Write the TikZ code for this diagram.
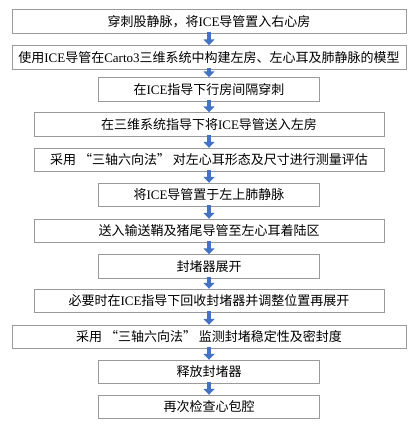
\documentclass[tikz,border=0pt]{standalone}
\usepackage{fontspec}
\setmainfont{Noto Sans CJK SC}
\newfontfamily\lat{Liberation Serif}
\usetikzlibrary{arrows.meta}
\definecolor{flowblue}{HTML}{4472C4}
\definecolor{boxline}{HTML}{9A9A9A}
\tikzset{
  stepbox/.style={draw=boxline, line width=0.9pt, fill=white, minimum height=23.5pt, inner sep=0pt,
    font=\fontsize{13}{15}\selectfont, text=black},
  widebox/.style={stepbox, minimum width=394pt},
  midbox/.style={stepbox, minimum width=350pt},
  narrowbox/.style={stepbox, minimum width=221pt},
  flowarrow/.style={draw=flowblue, line width=4pt, -{Triangle[width=11pt,length=6pt]}, shorten <=-2pt}
}
\newcommand{\latw}[1]{{\lat #1}}
\begin{document}
\begin{tikzpicture}[x=1pt,y=1pt]
\useasboundingbox (0,0) rectangle (417,427);
\node[widebox]   (b1)  at (209,427-21.5) {穿刺股静脉，将\latw{ICE}导管置入右心房};
\node[widebox]   (b2)  at (209,427-57.5) {使用\latw{ICE}导管在\latw{Carto3}三维系统中构建左房、左心耳及肺静脉的模型};
\node[narrowbox] (b3)  at (209,427-89.5) {在\latw{ICE}指导下行房间隔穿刺};
\node[midbox]    (b4)  at (209,427-124.5) {在三维系统指导下将\latw{ICE}导管送入左房};
\node[midbox]    (b5)  at (209,427-160) {采用 “三轴六向法” 对左心耳形态及尺寸进行测量评估};
\node[narrowbox] (b6)  at (209,427-195) {将\latw{ICE}导管置于左上肺静脉};
\node[midbox]    (b7)  at (209,427-231) {送入输送鞘及猪尾导管至左心耳着陆区};
\node[narrowbox] (b8)  at (209,427-266.5) {封堵器展开};
\node[midbox]    (b9)  at (209,427-301) {必要时在\latw{ICE}指导下回收封堵器并调整位置再展开};
\node[widebox]   (b10) at (209,427-337) {采用 “三轴六向法” 监测封堵稳定性及密封度};
\node[narrowbox] (b11) at (209,427-372) {释放封堵器};
\node[narrowbox] (b12) at (209,427-407) {再次检查心包腔};
\foreach \a/\b in {b1/b2,b2/b3,b3/b4,b4/b5,b5/b6,b6/b7,b7/b8,b8/b9,b9/b10,b10/b11,b11/b12}
  \draw[flowarrow] (\a.south) -- (\b.north);
\end{tikzpicture}
\end{document}
